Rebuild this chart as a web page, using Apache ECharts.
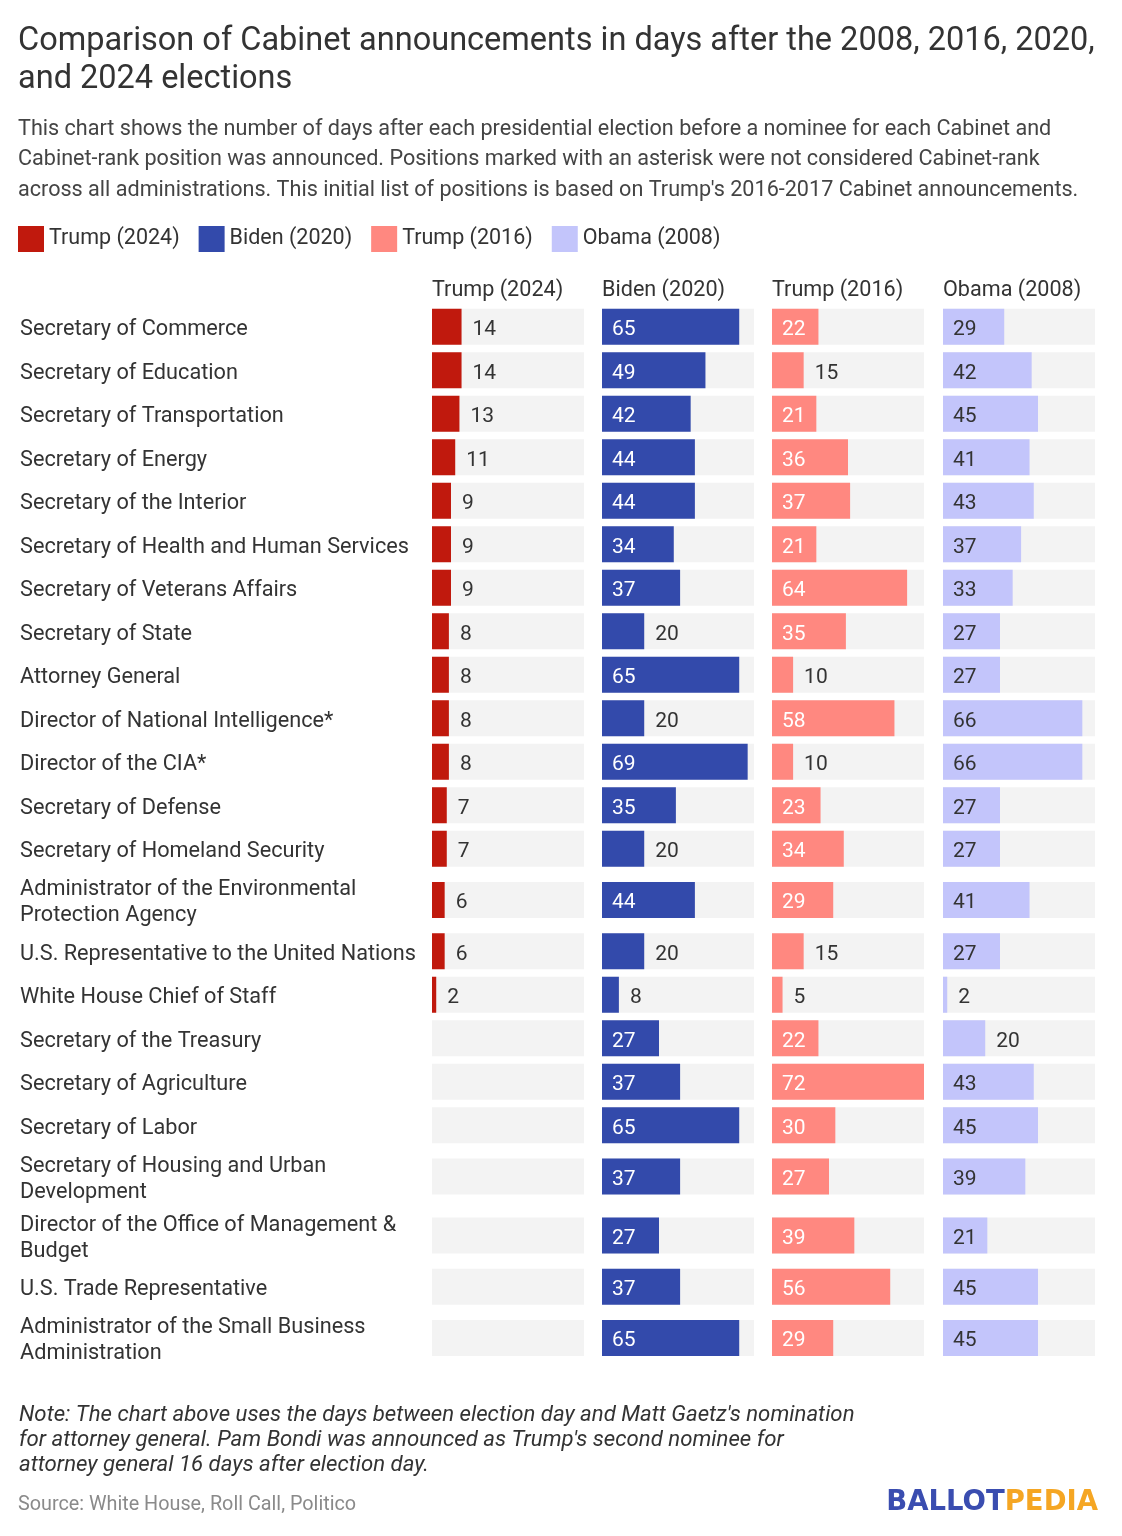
<!DOCTYPE html>
<html>
<head>
<meta charset="utf-8">
<script src="https://cdn.jsdelivr.net/npm/echarts@6/dist/echarts.min.js"></script>
<style>
html,body{margin:0;padding:0;background:#fff;}
#chart{width:1122px;height:1536px;}
</style>
</head>
<body>
<div id="chart"></div>
<script>
const positions = [
  "Secretary of Commerce",
  "Secretary of Education",
  "Secretary of Transportation",
  "Secretary of Energy",
  "Secretary of the Interior",
  "Secretary of Health and Human Services",
  "Secretary of Veterans Affairs",
  "Secretary of State",
  "Attorney General",
  "Director of National Intelligence*",
  "Director of the CIA*",
  "Secretary of Defense",
  "Secretary of Homeland Security",
  "Administrator of the Environmental\nProtection Agency",
  "U.S. Representative to the United Nations",
  "White House Chief of Staff",
  "Secretary of the Treasury",
  "Secretary of Agriculture",
  "Secretary of Labor",
  "Secretary of Housing and Urban\nDevelopment",
  "Director of the Office of Management &\nBudget",
  "U.S. Trade Representative",
  "Administrator of the Small Business\nAdministration"
];
const seriesNames = ["Trump (2024)", "Biden (2020)", "Trump (2016)", "Obama (2008)"];
const trump2024 = [14,14,13,11,9,9,9,8,8,8,8,7,7,6,6,2,null,null,null,null,null,null,null];
const biden2020 = [65,49,42,44,44,34,37,20,65,20,69,35,20,44,20,8,27,37,65,37,27,37,65];
const trump2016 = [22,15,21,36,37,21,64,35,10,58,10,23,34,29,15,5,22,72,30,27,39,56,29];
const obama2008 = [29,42,45,41,43,37,33,27,27,66,66,27,27,41,27,2,20,43,45,39,21,45,45];
const xMax = 72;
const insideThreshold = 20;

const allValues = [trump2024, biden2020, trump2016, obama2008];
const colors = ["#c0190d", "#334aab", "#ff8880", "#c3c5fb"];
const insideTextColors = ["#ffffff", "#ffffff", "#ffffff", "#333333"];
const gridLefts = [432, 602, 772, 943];
const gridWidth = 152;
const gridTop = 305;
const singleH = 43.5, doubleH = 59, barH = 36;

const rowHeights = positions.map(p => p.split("\n").length > 1 ? doubleH : singleH);
const centers = [];
let acc = 0;
rowHeights.forEach(h => { centers.push(acc + h / 2); acc += h; });
const totalH = acc;

const FONT = "Roboto, 'Noto Sans', sans-serif";

const grids = gridLefts.map(l => ({left: l, width: gridWidth, top: gridTop, height: totalH}));
const xAxes = gridLefts.map((l, i) => ({type: 'value', gridIndex: i, min: 0, max: xMax, show: false}));
const yAxes = gridLefts.map((l, i) => ({type: 'value', gridIndex: i, min: 0, max: totalH, inverse: true, show: false}));

const series = [];
gridLefts.forEach((l, i) => {
  series.push({
    type: 'custom', xAxisIndex: i, yAxisIndex: i, silent: true, z: 1,
    data: centers.map(c => [c]),
    renderItem: function (params, api) {
      const yc = api.value(0);
      const p0 = api.coord([0, yc]);
      const p1 = api.coord([xMax, yc]);
      return {type: 'rect', shape: {x: p0[0], y: p0[1] - barH / 2, width: p1[0] - p0[0], height: barH}, style: {fill: '#f3f3f3'}};
    }
  });
});
allValues.forEach((vals, i) => {
  series.push({
    name: seriesNames[i],
    type: 'custom', xAxisIndex: i, yAxisIndex: i, z: 2,
    itemStyle: {color: colors[i]},
    data: vals.map((v, r) => [v == null ? 0 : v, centers[r], v == null ? 0 : 1]),
    renderItem: function (params, api) {
      if (!api.value(2)) return null;
      const v = api.value(0), yc = api.value(1);
      const p0 = api.coord([0, yc]);
      const p1 = api.coord([v, yc]);
      const inside = v > insideThreshold;
      return {type: 'group', children: [
        {type: 'rect', shape: {x: p0[0], y: p0[1] - barH / 2, width: p1[0] - p0[0], height: barH}, style: {fill: colors[i]}},
        {type: 'text', z2: 10, style: {
          text: String(v), x: inside ? p0[0] + 10 : p1[0] + 11, y: p0[1] + 3,
          verticalAlign: 'middle', align: 'left',
          fill: inside ? insideTextColors[i] : '#333333',
          fontSize: 21, fontFamily: FONT
        }}
      ]};
    }
  });
});
series.push({
  type: 'custom', xAxisIndex: 0, yAxisIndex: 0, silent: true, z: 3,
  data: positions.map((p, r) => [centers[r], r]),
  renderItem: function (params, api) {
    const yc = api.value(0);
    const r = api.value(1);
    const p0 = api.coord([0, yc]);
    return {type: 'text', style: {
      text: positions[r], x: 20, y: p0[1] + 3, verticalAlign: 'middle', align: 'left',
      fill: '#333333', fontSize: 21.7, lineHeight: 26, fontFamily: FONT
    }};
  }
});

const titles = [
  {text: "Comparison of Cabinet announcements in days after the 2008, 2016, 2020,\nand 2024 elections",
   left: 18, top: 22.5, padding: 0, textStyle: {fontSize: 32.5, fontWeight: 'normal', color: '#333333', lineHeight: 38, fontFamily: FONT}},
  {text: "This chart shows the number of days after each presidential election before a nominee for each Cabinet and\nCabinet-rank position was announced. Positions marked with an asterisk were not considered Cabinet-rank\nacross all administrations. This initial list of positions is based on Trump's 2016-2017 Cabinet announcements.",
   left: 18, top: 114, padding: 0, textStyle: {fontSize: 21.6, fontWeight: 'normal', color: '#444444', lineHeight: 30.5, fontFamily: FONT}},
  {text: "Note: The chart above uses the days between election day and Matt Gaetz's nomination\nfor attorney general. Pam Bondi was announced as Trump's second nominee for\nattorney general 16 days after election day.",
   left: 19, top: 1403, padding: 0, textStyle: {fontSize: 22.2, fontStyle: 'italic', fontWeight: 'normal', color: '#333333', lineHeight: 25, fontFamily: FONT}},
  {text: "Source: White House, Roll Call, Politico",
   left: 18, top: 1495, padding: 0, textStyle: {fontSize: 19.8, fontWeight: 'normal', color: '#8a8a8a', fontFamily: FONT}},
  {text: "{a|BALLOT}{b|PEDIA}", right: 24, top: 1489, padding: 0,
   textStyle: {rich: {
     a: {fontSize: 27.5, fontWeight: 'bold', color: '#3a4db0', fontFamily: "'DejaVu Sans', sans-serif"},
     b: {fontSize: 27.5, fontWeight: 'bold', color: '#f5a623', fontFamily: "'DejaVu Sans', sans-serif"}
   }}}
];
seriesNames.forEach((n, i) => {
  titles.push({text: n, left: gridLefts[i], top: 280, padding: 0, textStyle: {fontSize: 21.6, fontWeight: 'normal', color: '#333333', fontFamily: FONT}});
});

const chart = echarts.init(document.getElementById('chart'), null, {renderer: 'canvas'});
chart.setOption({
  backgroundColor: '#ffffff',
  animation: false,
  title: titles,
  legend: {
    left: 18, top: 226, padding: 0, icon: 'rect', itemWidth: 26, itemHeight: 26, itemGap: 19,
    textStyle: {fontSize: 21.5, color: '#333333', fontFamily: FONT},
    data: seriesNames.map((n, i) => ({name: n, itemStyle: {color: colors[i]}})),
    selectedMode: false
  },
  grid: grids,
  xAxis: xAxes,
  yAxis: yAxes,
  series: series
});
</script>
</body>
</html>
